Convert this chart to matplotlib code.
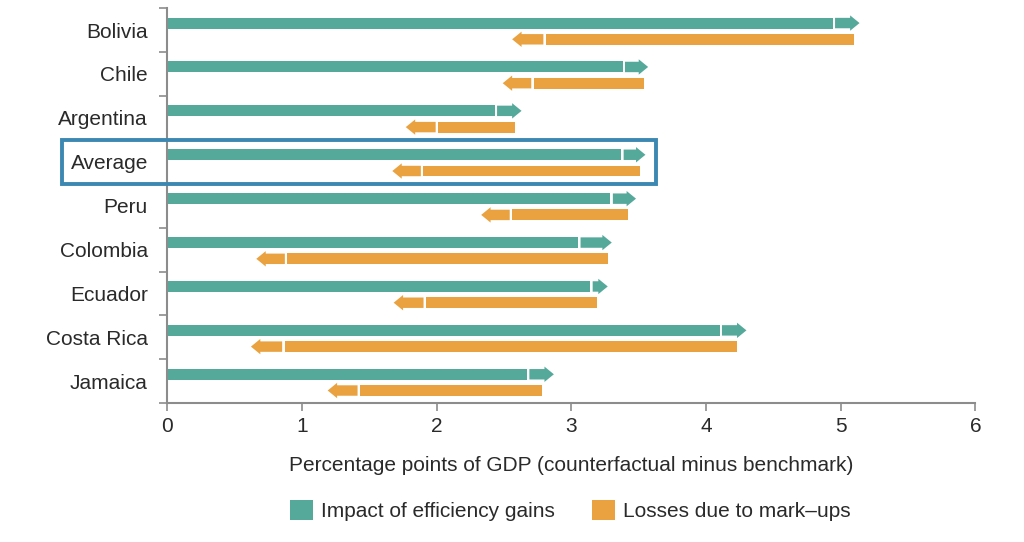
import matplotlib
matplotlib.use("Agg")
import matplotlib.pyplot as plt
from matplotlib.patches import FancyArrow, Rectangle, Patch
import numpy as np

plt.rcParams['font.family'] = ['Liberation Sans', 'DejaVu Sans']

countries = ["Bolivia", "Chile", "Argentina", "Average", "Peru",
             "Colombia", "Ecuador", "Costa Rica", "Jamaica"]
# teal: bar end and arrow tip
gain_base = [4.94, 3.38, 2.43, 3.37, 3.29, 3.05, 3.14, 4.10, 2.67]
gain_tip = [5.14, 3.57, 2.63, 3.55, 3.48, 3.30, 3.27, 4.30, 2.87]
# orange: bar right end, bar left start and arrow tip
loss_end = [5.10, 3.54, 2.58, 3.51, 3.42, 3.27, 3.19, 4.23, 2.78]
loss_start = [2.81, 2.72, 2.01, 1.90, 2.56, 0.89, 1.92, 0.87, 1.43]
loss_tip = [2.56, 2.49, 1.77, 1.67, 2.33, 0.66, 1.68, 0.62, 1.19]
box_right = 3.63

teal = "#55a99b"
orange = "#e9a23f"
boxc = "#3d88b2"
grey = "#8c8c8c"
txt = "#2a2a2a"

fig = plt.figure(figsize=(10.24, 5.42), dpi=100)
ax = fig.add_axes([0.1635, 0.256, 0.789, 0.729])

n = len(countries)
y = np.arange(n)
h = 0.25
off_t = -0.16
off_o = 0.21
gap = 0.018
hl = 0.07

for i in range(n):
    yt = y[i] + off_t
    yo = y[i] + off_o
    ax.barh(yt, gain_base[i], height=h, color=teal, edgecolor='none')
    ax.add_patch(FancyArrow(gain_base[i] + gap, yt, gain_tip[i] - gain_base[i] - gap, 0,
                            width=h * 0.95, head_width=h * 1.4, head_length=hl,
                            length_includes_head=True, color=teal, lw=0))
    ax.barh(yo, loss_end[i] - loss_start[i], left=loss_start[i], height=h,
            color=orange, edgecolor='none')
    ax.add_patch(FancyArrow(loss_start[i] - gap, yo, loss_tip[i] - loss_start[i] + gap, 0,
                            width=h * 0.95, head_width=h * 1.4, head_length=hl,
                            length_includes_head=True, color=orange, lw=0))

ax.set_xlim(0, 6)
ax.set_ylim(n - 0.5, -0.5)

# box around Average row
k = countries.index("Average")
ax.add_patch(Rectangle((-0.78, k - 0.5), box_right + 0.78, 1.0, fill=False,
                       edgecolor=boxc, lw=2.8, clip_on=False, zorder=5))

ax.set_yticks(y)
ax.set_yticklabels(countries, fontsize=15, color=txt)
ax.set_yticks(np.arange(n + 1) - 0.5, minor=True)
ax.tick_params(axis='y', which='major', length=0, pad=14)
ax.tick_params(axis='y', which='minor', length=6, color=grey, width=1.2)
ax.set_xticks(range(7))
ax.tick_params(axis='x', length=6, color=grey, width=1.2, labelsize=15,
               labelcolor=txt, pad=4)

for s in ['top', 'right']:
    ax.spines[s].set_visible(False)
for s in ['left', 'bottom']:
    ax.spines[s].set_color(grey)
    ax.spines[s].set_linewidth(1.5)

ax.set_xlabel("Percentage points of GDP (counterfactual minus benchmark)",
              fontsize=15, color=txt, labelpad=14)

handles = [Patch(facecolor=teal, label="Impact of efficiency gains"),
           Patch(facecolor=orange, label="Losses due to mark\u2013ups")]
fig.legend(handles=handles, loc='center', bbox_to_anchor=(0.557, 0.058), ncol=2,
           frameon=False, fontsize=15, handlelength=1.1, handleheight=1.1,
           columnspacing=1.8, handletextpad=0.4, labelcolor=txt)

fig.savefig("out.png", dpi=100)
